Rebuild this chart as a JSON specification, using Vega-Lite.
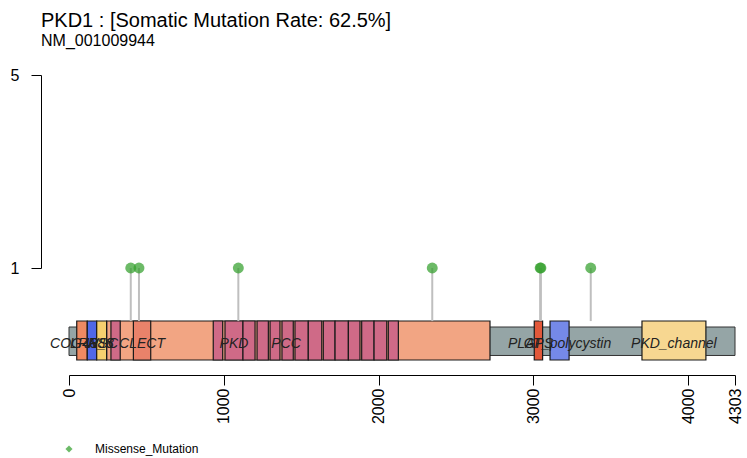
{
  "$schema": "https://vega.github.io/schema/vega-lite/v6.json",
  "width": 666,
  "height": 193,
  "autosize": {"type": "none"},
  "padding": {"left": 69, "top": 75, "right": 12, "bottom": 190},
  "background": "white",
  "config": {
    "view": {"stroke": null},
    "font": "Liberation Sans",
    "axisX": {
      "labelAngle": 270,
      "offset": 107,
      "tickSize": 10,
      "labelFontSize": 16,
      "labelPadding": 3,
      "labelFont": "Liberation Sans",
      "domainColor": "black",
      "tickColor": "black",
      "labelColor": "black",
      "grid": false,
      "labelFlush": false,
      "labelOverlap": false,
      "format": "d"
    },
    "axisY": {
      "offset": 28,
      "tickSize": 10,
      "labelFontSize": 16,
      "labelPadding": 12,
      "labelFont": "Liberation Sans",
      "domainColor": "black",
      "tickColor": "black",
      "labelColor": "black",
      "grid": false,
      "labelFlush": false,
      "labelOverlap": false,
      "format": "d"
    }
  },
  "title": {
    "text": "PKD1 : [Somatic Mutation Rate: 62.5%]",
    "subtitle": "NM_001009944",
    "anchor": "start",
    "frame": "group",
    "dx": -28,
    "offset": 18,
    "fontSize": 20,
    "fontWeight": "normal",
    "font": "Liberation Sans",
    "color": "black",
    "subtitleFont": "Liberation Sans",
    "subtitleFontSize": 16,
    "subtitleColor": "black",
    "subtitlePadding": 2
  },
  "datasets": {
    "backbone": [{"start": 0, "end": 4303}],
    "domains": [
      {"name": "REJ", "start": 243, "end": 2720},
      {"name": "COG4886", "start": 50, "end": 118},
      {"name": "LRR_8", "start": 118, "end": 179},
      {"name": "WSC", "start": 179, "end": 243},
      {"name": "PKD", "start": 271, "end": 331},
      {"name": "CLECT", "start": 416, "end": 528},
      {"name": "PKD", "start": 932, "end": 993},
      {"name": "PKD", "start": 1008, "end": 1124},
      {"name": "PKD", "start": 1124, "end": 1202},
      {"name": "PKD", "start": 1215, "end": 1288},
      {"name": "PKD", "start": 1299, "end": 1363},
      {"name": "PKD", "start": 1376, "end": 1449},
      {"name": "PKD", "start": 1460, "end": 1546},
      {"name": "PKD", "start": 1546, "end": 1633},
      {"name": "PKD", "start": 1643, "end": 1719},
      {"name": "PKD", "start": 1719, "end": 1805},
      {"name": "PKD", "start": 1805, "end": 1880},
      {"name": "PKD", "start": 1891, "end": 1971},
      {"name": "PKD", "start": 1971, "end": 2053},
      {"name": "PKD", "start": 2063, "end": 2128},
      {"name": "GPS", "start": 3006, "end": 3060},
      {"name": "PLAT_polycystin", "start": 3108, "end": 3231},
      {"name": "PKD_channel", "start": 3702, "end": 4115}
    ],
    "labels": [
      {"label": "COG4886", "pos": 81},
      {"label": "LRR_8", "pos": 148},
      {"label": "WSC", "pos": 211},
      {"label": "CLECT", "pos": 472},
      {"label": "PKD", "pos": 1066},
      {"label": "PCC", "pos": 1402},
      {"label": "GPS", "pos": 3033},
      {"label": "PLAT_polycystin", "pos": 3170},
      {"label": "PKD_channel", "pos": 3908}
    ],
    "muts": [
      {"pos": 399, "count": 1, "type": "Missense_Mutation"},
      {"pos": 452, "count": 1, "type": "Missense_Mutation"},
      {"pos": 1094, "count": 1, "type": "Missense_Mutation"},
      {"pos": 2347, "count": 1, "type": "Missense_Mutation"},
      {"pos": 3044, "count": 1, "type": "Missense_Mutation"},
      {"pos": 3049, "count": 1, "type": "Missense_Mutation"},
      {"pos": 3371, "count": 1, "type": "Missense_Mutation"}
    ]
  },
  "layer": [
    {
      "data": {"name": "backbone"},
      "mark": {"type": "rect", "fill": "#95A5A6", "stroke": "#333333", "strokeWidth": 1},
      "encoding": {
        "x": {"field": "start", "type": "quantitative", "scale": {"domain": [0, 4303], "nice": false, "zero": false}, "axis": {"values": [0, 1000, 2000, 3000, 4000, 4303], "title": null}},
        "x2": {"field": "end"},
        "y": {"datum": -0.223, "type": "quantitative", "scale": {"domain": [1, 5], "nice": false, "zero": false}, "axis": {"values": [1, 5], "title": null}},
        "y2": {"datum": -0.813}
      }
    },
    {
      "data": {"name": "domains"},
      "mark": {"type": "rect", "stroke": "#1a1a1a", "strokeWidth": 1.2},
      "encoding": {
        "x": {"field": "start", "type": "quantitative", "axis": {"values": [0, 1000, 2000, 3000, 4000, 4303], "title": null}},
        "x2": {"field": "end"},
        "y": {"datum": -0.098, "type": "quantitative", "axis": {"values": [1, 5], "title": null}},
        "y2": {"datum": -0.907},
        "fill": {
          "field": "name",
          "type": "nominal",
          "legend": null,
          "scale": {
            "domain": ["REJ", "COG4886", "LRR_8", "WSC", "PKD", "CLECT", "GPS", "PLAT_polycystin", "PKD_channel"],
            "range": ["#F2A583", "#EF8A62", "#5068E8", "#F6D06F", "#CF6A87", "#E9826A", "#E1583A", "#7589E8", "#F7D791"]
          }
        }
      }
    },
    {
      "data": {"name": "muts"},
      "mark": {"type": "rule", "color": "#BFBFBF", "strokeWidth": 2},
      "encoding": {
        "x": {"field": "pos", "type": "quantitative", "axis": {"values": [0, 1000, 2000, 3000, 4000, 4303], "title": null}},
        "y": {"field": "count", "type": "quantitative", "axis": {"values": [1, 5], "title": null}},
        "y2": {"datum": -0.1}
      }
    },
    {
      "data": {"name": "muts"},
      "mark": {"type": "point", "shape": "circle", "filled": true, "opacity": 0.72, "size": 120},
      "encoding": {
        "x": {"field": "pos", "type": "quantitative", "axis": {"values": [0, 1000, 2000, 3000, 4000, 4303], "title": null}},
        "y": {"field": "count", "type": "quantitative", "axis": {"values": [1, 5], "title": null}},
        "color": {
          "field": "type",
          "type": "nominal",
          "scale": {"domain": ["Missense_Mutation"], "range": ["#33A02C"]},
          "legend": {
            "title": null,
            "orient": "none",
            "legendX": -6,
            "legendY": 368,
            "symbolType": "diamond",
            "symbolSize": 50,
            "symbolStrokeWidth": 0,
            "labelFontSize": 12,
            "labelFont": "Liberation Sans",
            "labelColor": "black",
            "labelOffset": 20,
            "padding": 0
          }
        }
      }
    },
    {
      "data": {"name": "labels"},
      "mark": {"type": "text", "fontStyle": "italic", "fontSize": 14, "font": "Liberation Sans", "color": "#222222", "align": "center", "baseline": "middle"},
      "encoding": {
        "x": {"field": "pos", "type": "quantitative", "axis": {"values": [0, 1000, 2000, 3000, 4000, 4303], "title": null}},
        "y": {"datum": -0.57, "type": "quantitative", "axis": {"values": [1, 5], "title": null}},
        "text": {"field": "label"}
      }
    }
  ],
  "resolve": {"scale": {"color": "independent", "fill": "independent"}}
}
